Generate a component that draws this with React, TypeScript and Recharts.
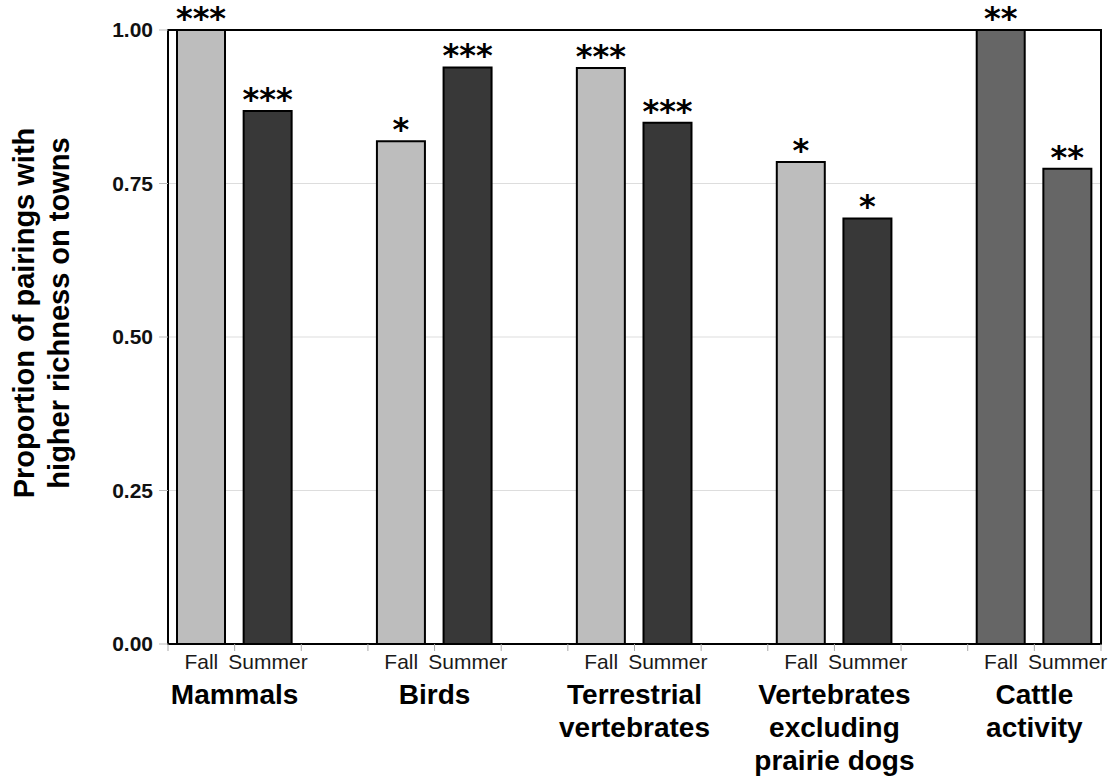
import React from "react";
import {
  BarChart,
  Bar,
  XAxis,
  YAxis,
  CartesianGrid,
  Cell,
  LabelList,
  ReferenceArea,
} from "recharts";

// ---- data ----
const slotIds = [
  "mam-fall", "mam-summer", "gap1",
  "bird-fall", "bird-summer", "gap2",
  "terr-fall", "terr-summer", "gap3",
  "vert-fall", "vert-summer", "gap4",
  "cat-fall", "cat-summer",
];
const seasonLabels = [
  "Fall", "Summer", "",
  "Fall", "Summer", "",
  "Fall", "Summer", "",
  "Fall", "Summer", "",
  "Fall", "Summer",
];
const proportions: (number | null)[] = [
  1.0, 0.868, null,
  0.819, 0.939, null,
  0.938, 0.849, null,
  0.785, 0.693, null,
  1.0, 0.774,
];
const significance = [
  "***", "***", "",
  "*", "***", "",
  "***", "***", "",
  "*", "*", "",
  "**", "**",
];
const barColors = [
  "#bdbdbd", "#383838", "#ffffff",
  "#bdbdbd", "#383838", "#ffffff",
  "#bdbdbd", "#383838", "#ffffff",
  "#bdbdbd", "#383838", "#ffffff",
  "#666666", "#666666",
];
// group label drawn under the boundary between a group's Fall and Summer slots
const groupLabels: (string[] | null)[] = [
  ["Mammals"], null, null,
  ["Birds"], null, null,
  ["Terrestrial", "vertebrates"], null, null,
  ["Vertebrates", "excluding", "prairie dogs"], null, null,
  ["Cattle", "activity"], null,
];
const yTicks = [0, 0.25, 0.5, 0.75, 1.0];
const yTitle = ["Proportion of pairings with", "higher richness on towns"];

const data = slotIds.map((id, i) => ({
  id,
  season: seasonLabels[i],
  value: proportions[i],
  stars: significance[i],
}));

const CHART_W = 1111;
const CHART_H = 779;
const MARGIN = { top: 30, right: 10, bottom: 0, left: 0 };
const Y_AXIS_W = 168;
const BAND = (CHART_W - MARGIN.left - MARGIN.right - Y_AXIS_W) / slotIds.length;

const FONT = "Liberation Sans, Arial, Helvetica, sans-serif";

const SlotTick = (props: any) => {
  const { x, y, index } = props;
  const label = seasonLabels[index] ?? "";
  const group = groupLabels[index];
  const last = index === slotIds.length - 1;
  return (
    <g>
      <line x1={x - BAND / 2} x2={x - BAND / 2} y1={y} y2={y + 7} stroke="#aaaaaa" strokeWidth={1} />
      {last && (
        <line x1={x + BAND / 2} x2={x + BAND / 2} y1={y} y2={y + 7} stroke="#aaaaaa" strokeWidth={1} />
      )}
      <text
        x={x}
        y={y + 25}
        textAnchor="middle"
        fontFamily={FONT}
        fontSize={21}
        fill="#1a1a1a"
      >
        {label}
      </text>
      {group && (
        <text
          x={x + BAND / 2}
          y={y + 60}
          textAnchor="middle"
          fontFamily={FONT}
          fontSize={28}
          fontWeight="bold"
          fill="#000"
        >
          {group.map((l, i) => (
            <tspan key={i} x={x + BAND / 2} dy={i === 0 ? 0 : 33}>
              {l}
            </tspan>
          ))}
        </text>
      )}
    </g>
  );
};

const StarLabel = (props: any) => {
  const { x, y, width, value } = props;
  if (!value) return null;
  return (
    <text
      x={x + width / 2}
      y={y - 1}
      textAnchor="middle"
      fontFamily="DejaVu Sans, sans-serif"
      fontSize={32}
      fontWeight="bold"
      fill="#000"
    >
      {value}
    </text>
  );
};

const YTitle = (props: any) => {
  const vb = props.viewBox || {};
  const cy = (vb.y ?? 30) + (vb.height ?? 614) / 2 - 24;
  return (
    <g>
      {yTitle.map((t, i) => {
        const bx = 34 + i * 35;
        return (
          <text
            key={i}
            x={bx}
            y={cy}
            transform={`rotate(-90, ${bx}, ${cy})`}
            textAnchor="middle"
            fontFamily={FONT}
            fontSize={29}
            fontWeight="bold"
            fill="#000"
          >
            {t}
          </text>
        );
      })}
    </g>
  );
};

export default function App() {
  return (
    <div style={{ position: "absolute", left: 0, top: 0, background: "#fff" }}>
      <BarChart
        width={CHART_W}
        height={CHART_H}
        data={data}
        margin={MARGIN}
        barSize={48}
      >
        <CartesianGrid vertical={false} stroke="#dddddd" strokeWidth={1} />
        <XAxis
          dataKey="id"
          tick={<SlotTick />}
          tickLine={false}
          axisLine={false}
          tickSize={0}
          tickMargin={0}
          interval={0}
          height={135}
        />
        <YAxis
          domain={[0, 1]}
          ticks={yTicks}
          tickFormatter={(v: number) => v.toFixed(2)}
          tick={{ fontFamily: FONT, fontSize: 21, fontWeight: "bold", fill: "#111" }}
          tickLine={{ stroke: "#bbbbbb" }}
          tickSize={9}
          tickMargin={6}
          axisLine={false}
          width={Y_AXIS_W}
          label={<YTitle />}
        />
        <Bar
          dataKey="value"
          stroke="#000"
          strokeWidth={2}
          isAnimationActive={false}
        >
          {data.map((d, i) => (
            <Cell key={d.id} fill={barColors[i]} />
          ))}
          <LabelList dataKey="stars" content={<StarLabel />} />
        </Bar>
        <ReferenceArea
          y1={0}
          y2={1}
          fill="none"
          stroke="#000"
          strokeWidth={2}
          ifOverflow="extendDomain"
        />
      </BarChart>
    </div>
  );
}
